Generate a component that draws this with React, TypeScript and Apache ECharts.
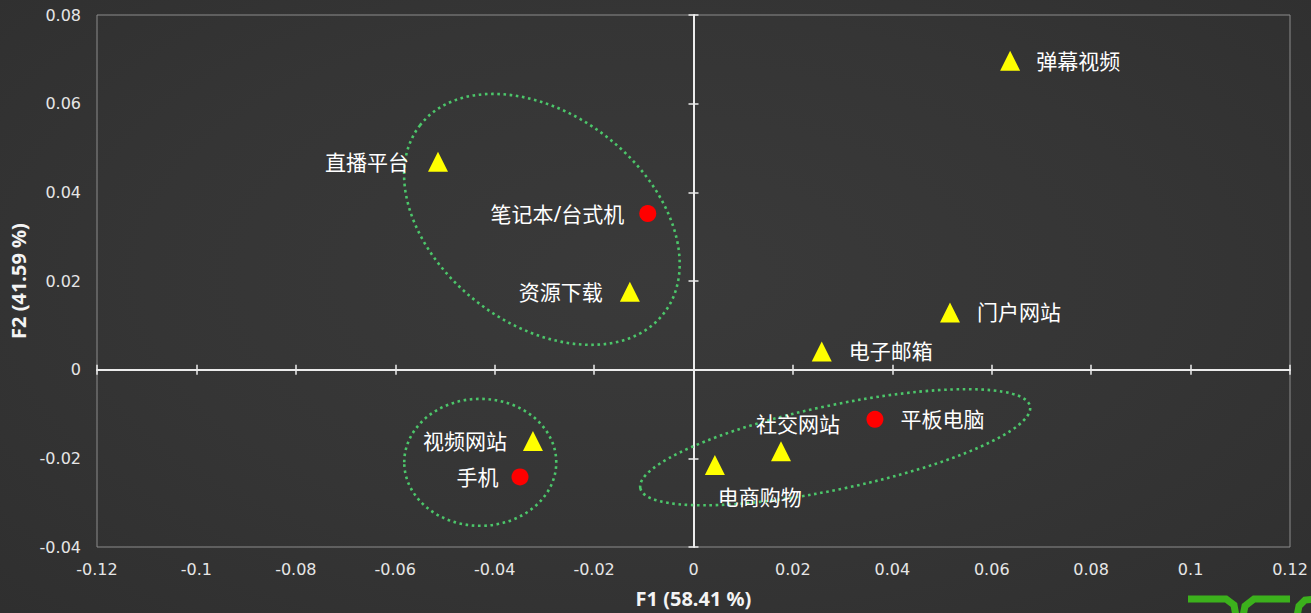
import React, { useEffect, useRef } from "react";
import * as echarts from "echarts";

// ---- data ----
const NAMES = ["弹幕视频", "直播平台", "笔记本/台式机", "资源下载", "门户网站", "电子邮箱", "平板电脑", "社交网站", "电商购物", "视频网站", "手机"];
const F1 = [0.0637, -0.0514, -0.0092, -0.0128, 0.0516, 0.0258, 0.0365, 0.0176, 0.0043, -0.0323, -0.0349];
const F2 = [0.0697, 0.0469, 0.0352, 0.0176, 0.0129, 0.0041, -0.0112, -0.0184, -0.0215, -0.0161, -0.0242];
const KIND = ["use", "use", "device", "use", "use", "use", "device", "use", "use", "use", "device"];

const X_MIN = -0.12, X_MAX = 0.12, X_STEP = 0.02;
const Y_MIN = -0.04, Y_MAX = 0.08, Y_STEP = 0.02;
const X_NAME = "F1 (58.41 %)";
const Y_NAME = "F2 (41.59 %)";

// group ellipses: centre in data units
const GROUP_CX = [-0.0305, -0.0429, 0.0285];
const GROUP_CY = [0.0339, -0.0209, -0.0175];

// ---- styling (not data) ----
const ELLIPSE_SHAPES = [
  { rx: 154, ry: 105, rot: -37.6 },
  { rx: 76, ry: 63.5, rot: 0 },
  { rx: 199, ry: 42, rot: 11.9 },
];
const LABEL_PLACE: Record<string, any> = {
  "弹幕视频": { position: "right", distance: 16 },
  "直播平台": { position: "left", distance: 19 },
  "笔记本/台式机": { position: "left", distance: 15 },
  "资源下载": { position: "left", distance: 17 },
  "门户网站": { position: "right", distance: 17 },
  "电子邮箱": { position: "right", distance: 17 },
  "平板电脑": { position: "right", distance: 17 },
  "社交网站": { position: "top", distance: 7, offset: [17, 0] },
  "电商购物": { position: "bottom", distance: 12, offset: [45, 0] },
  "视频网站": { position: "left", distance: 16 },
  "手机": { position: "left", distance: 13 },
};

const FONT = '"Noto Sans", "Noto Sans CJK SC", sans-serif';
const TICK_FONT = '"DejaVu Sans", "Noto Sans", sans-serif';
const LINE_COLOR = "#ececec";
const LOGO_GREEN = "#3cb11c";

function fmt(v: number) {
  return String(+(+v).toFixed(2));
}

export default function App() {
  const ref = useRef<HTMLDivElement>(null);
  useEffect(() => {
    if (!ref.current) return;
    const chart = echarts.init(ref.current, null, { renderer: "svg" });

    const baseX = { type: "value", min: X_MIN, max: X_MAX, interval: X_STEP, splitLine: { show: false } };
    const baseY = { type: "value", min: Y_MIN, max: Y_MAX, interval: Y_STEP, splitLine: { show: false } };

    const pointsFor = (kind: string) =>
      NAMES.map((n, i) => ({ n, i }))
        .filter(({ i }) => KIND[i] === kind)
        .map(({ n, i }) => ({
          name: n,
          value: [F1[i], F2[i]],
          label: { ...LABEL_PLACE[n] },
        }));

    const labelStyle = {
      show: true,
      formatter: "{b}",
      color: "#ffffff",
      fontSize: 21,
      fontFamily: FONT,
    };

    const logoLine = (points: number[][]) => ({
      type: "polyline",
      silent: true,
      shape: { points },
      style: { stroke: LOGO_GREEN, lineWidth: 7, fill: "none" },
    });

    chart.setOption({
      animation: false,
      backgroundColor: "transparent",
      grid: {
        left: 97,
        right: 21,
        top: 15,
        bottom: 65,
        show: true,
        borderColor: "#8c8c8c",
        borderWidth: 1,
        backgroundColor: "transparent",
      },
      xAxis: [
        {
          ...baseX,
          position: "bottom",
          axisLine: { show: false, onZero: false },
          axisTick: { show: false },
          axisLabel: { color: "#e6e6e6", fontSize: 16, margin: 14, fontFamily: TICK_FONT, formatter: fmt },
          name: X_NAME,
          nameLocation: "middle",
          nameGap: 41,
          nameTextStyle: { color: "#f4f4f4", fontSize: 20, fontWeight: "bold", fontFamily: FONT },
        },
        {
          ...baseX,
          position: "bottom",
          axisLine: { show: true, onZero: true, lineStyle: { color: LINE_COLOR, width: 2 } },
          axisTick: { show: true, length: 5, lineStyle: { color: LINE_COLOR, width: 1.5 } },
          axisLabel: { show: false },
        },
        {
          ...baseX,
          position: "bottom",
          axisLine: { show: false, onZero: true },
          axisTick: { show: true, inside: true, length: 5, lineStyle: { color: LINE_COLOR, width: 1.5 } },
          axisLabel: { show: false },
        },
      ],
      yAxis: [
        {
          ...baseY,
          position: "left",
          axisLine: { show: false, onZero: false },
          axisTick: { show: false },
          axisLabel: { color: "#e6e6e6", fontSize: 16, margin: 16, fontFamily: TICK_FONT, formatter: fmt },
          name: Y_NAME,
          nameLocation: "middle",
          nameRotate: 90,
          nameGap: 65,
          nameTextStyle: { color: "#f4f4f4", fontSize: 20, fontWeight: "bold", fontFamily: FONT },
        },
        {
          ...baseY,
          position: "left",
          axisLine: { show: true, onZero: true, lineStyle: { color: LINE_COLOR, width: 2 } },
          axisTick: { show: true, length: 5, lineStyle: { color: LINE_COLOR, width: 1.5 } },
          axisLabel: { show: false },
        },
        {
          ...baseY,
          position: "left",
          axisLine: { show: false, onZero: true },
          axisTick: { show: true, inside: true, length: 5, lineStyle: { color: LINE_COLOR, width: 1.5 } },
          axisLabel: { show: false },
        },
      ],
      series: [
        {
          type: "custom",
          silent: true,
          clip: false,
          xAxisIndex: 0,
          yAxisIndex: 0,
          data: GROUP_CX.map((x, i) => [x, GROUP_CY[i]]),
          renderItem: (params: any, api: any) => {
            const c = api.coord([api.value(0), api.value(1)]);
            const s = ELLIPSE_SHAPES[params.dataIndex];
            return {
              type: "ellipse",
              x: c[0],
              y: c[1],
              rotation: (s.rot * Math.PI) / 180,
              shape: { cx: 0, cy: 0, rx: s.rx, ry: s.ry },
              style: { fill: "none", stroke: "#4cc66a", lineWidth: 2.6, lineDash: [2.6, 3.6] },
            };
          },
        },
        {
          type: "scatter",
          name: "use",
          xAxisIndex: 0,
          yAxisIndex: 0,
          symbol: "triangle",
          symbolSize: 20,
          itemStyle: { color: "#ffff00", opacity: 1 },
          label: labelStyle,
          data: pointsFor("use"),
        },
        {
          type: "scatter",
          name: "device",
          xAxisIndex: 0,
          yAxisIndex: 0,
          symbol: "circle",
          symbolSize: 17,
          itemStyle: { color: "#ff0000", opacity: 1 },
          label: labelStyle,
          data: pointsFor("device"),
        },
      ],
      graphic: [
        logoLine([[1188, 599], [1226, 599], [1234, 605], [1236, 616]]),
        logoLine([[1290, 599], [1254, 599], [1245, 606], [1243, 616]]),
        logoLine([[1315, 599], [1305, 600], [1299, 606], [1297, 616]]),
      ],
    });

    return () => chart.dispose();
  }, []);

  return (
    <div
      style={{
        position: "absolute",
        left: 0,
        top: 0,
        width: 1311,
        height: 613,
        overflow: "hidden",
        background: "radial-gradient(ellipse at 50% 45%, #3a3a3a 0%, #353535 55%, #2f2f2f 100%)",
      }}
    >
      <div ref={ref} style={{ width: 1311, height: 613 }} />
    </div>
  );
}
